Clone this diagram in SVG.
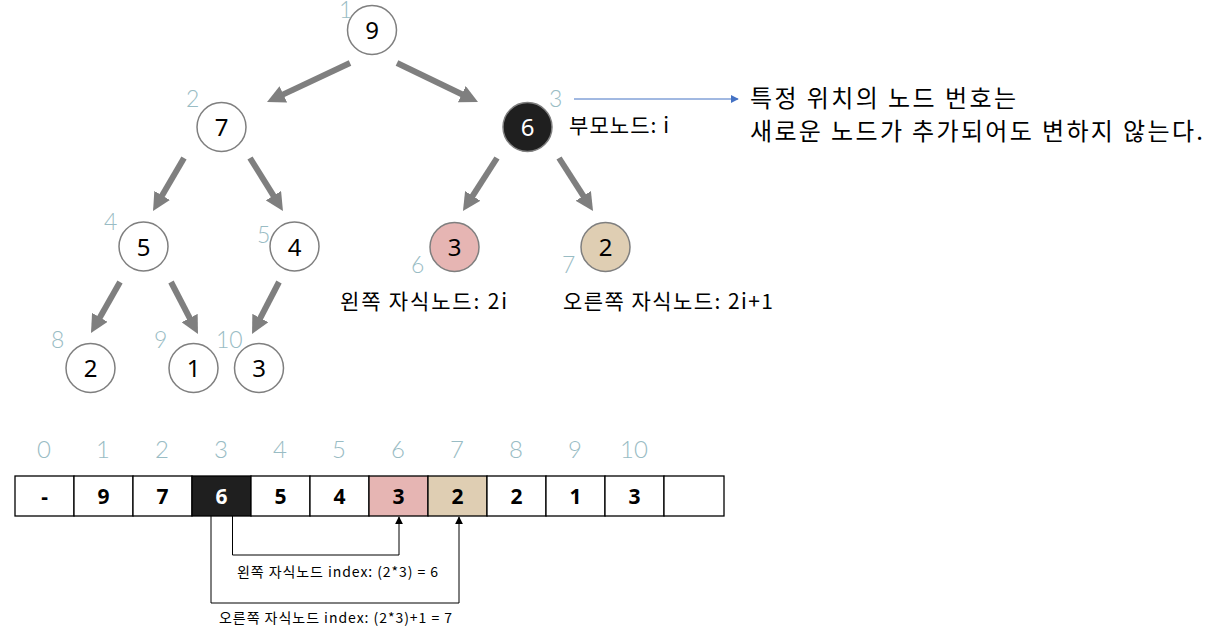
<svg xmlns="http://www.w3.org/2000/svg" width="1218" height="636" viewBox="0 0 1218 636">
<style>
  .node circle { stroke: #7f7f7f; stroke-width: 1.5; fill: #ffffff; }
  .node text.val { font-family: "Noto Sans", "Open Sans", sans-serif; font-size: 24px; text-anchor: middle; fill: #000; }
  .idx { font-family: "Lato", "Noto Sans", sans-serif; font-weight: 300; font-size: 23px; fill: #99bcc4; }
  .tarrow { stroke: #7f7f7f; stroke-width: 6; fill: none; marker-end: url(#thick); }
  .kr { font-family: "Noto Sans CJK KR", "Noto Sans", sans-serif; fill: #000; }
  .cell { stroke: #000; stroke-width: 1.3; fill: #fff; }
  .cval { font-family: "Noto Sans", "Open Sans", sans-serif; font-weight: bold; font-size: 21px; text-anchor: middle; fill: #000; }
  .aidx { font-family: "Lato", "Noto Sans", sans-serif; font-weight: 300; font-size: 24px; text-anchor: middle; fill: #99bcc4; }
  .thin { stroke: #000; stroke-width: 1; fill: none; marker-end: url(#small); }
</style>
<defs>
  <marker id="thick" viewBox="0 0 10 10" refX="1" refY="5" markerWidth="3" markerHeight="3" orient="auto" markerUnits="strokeWidth">
    <path d="M0,0 L10,5 L0,10 z" fill="#7f7f7f"/>
  </marker>
  <marker id="small" viewBox="0 0 10 10" refX="9" refY="5" markerWidth="8" markerHeight="8" orient="auto" markerUnits="userSpaceOnUse">
    <path d="M0,0 L10,5 L0,10 z" fill="#000"/>
  </marker>
  <marker id="blue" viewBox="0 0 10 10" refX="9" refY="5" markerWidth="8" markerHeight="8" orient="auto" markerUnits="userSpaceOnUse">
    <path d="M0,0 L10,5 L0,10 z" fill="#4472c4"/>
  </marker>
</defs>
<rect width="1218" height="636" fill="#fff"/>

<g id="connectors">
  <line class="tarrow" x1="350" y1="63" x2="281.7" y2="95.1"/>
  <line class="tarrow" x1="397" y1="63" x2="463.4" y2="95"/>
  <line class="tarrow" x1="184" y1="158" x2="161.2" y2="197"/>
  <line class="tarrow" x1="250" y1="158" x2="274.4" y2="197.2"/>
  <line class="tarrow" x1="120" y1="282" x2="99" y2="318.9"/>
  <line class="tarrow" x1="171" y1="282" x2="190.5" y2="319.6"/>
  <line class="tarrow" x1="279" y1="282" x2="259.5" y2="319.6"/>
  <line class="tarrow" x1="497" y1="158" x2="471.7" y2="197.4"/>
  <line class="tarrow" x1="559" y1="158" x2="584.3" y2="197.4"/>
  <line x1="574" y1="99" x2="738" y2="99" stroke="#4472c4" stroke-width="1" marker-end="url(#blue)"/>
  <polyline class="thin" points="232.5,516 232.5,555 399,555 399,517"/>
  <polyline class="thin" points="211,516 211,603 459,603 459,517"/>
</g>

<g id="node-1" class="node">
  <circle cx="372" cy="30" r="24.5"/>
  <text class="val" x="372" y="39">9</text>
  <text class="idx" x="339" y="18">1</text>
</g>
<g id="node-2" class="node">
  <circle cx="221.5" cy="127" r="24.5"/>
  <text class="val" x="221.5" y="136">7</text>
  <text class="idx" x="186" y="107">2</text>
</g>
<g id="node-3" class="node">
  <circle cx="527.5" cy="127" r="24.5" style="fill:#1f1f1f"/>
  <text class="val" x="527.5" y="136" style="fill:#fff">6</text>
  <text class="idx" x="549" y="107">3</text>
</g>
<g id="node-4" class="node">
  <circle cx="143.5" cy="246.5" r="24.5"/>
  <text class="val" x="143.5" y="255.5">5</text>
  <text class="idx" x="104" y="230">4</text>
</g>
<g id="node-5" class="node">
  <circle cx="294.5" cy="246.5" r="24.5"/>
  <text class="val" x="294.5" y="255.5">4</text>
  <text class="idx" x="257" y="243">5</text>
</g>
<g id="node-6" class="node">
  <circle cx="454.5" cy="247" r="24.5" style="fill:#e6b5b3"/>
  <text class="val" x="454.5" y="256">3</text>
  <text class="idx" x="411" y="273">6</text>
</g>
<g id="node-7" class="node">
  <circle cx="605.5" cy="247" r="24.5" style="fill:#dfceb3"/>
  <text class="val" x="605.5" y="256">2</text>
  <text class="idx" x="562" y="273">7</text>
</g>
<g id="node-8" class="node">
  <circle cx="90.5" cy="368" r="24.5"/>
  <text class="val" x="90.5" y="377">2</text>
  <text class="idx" x="51" y="348">8</text>
</g>
<g id="node-9" class="node">
  <circle cx="193.5" cy="368" r="24.5"/>
  <text class="val" x="193.5" y="377">1</text>
  <text class="idx" x="154" y="348">9</text>
</g>
<g id="node-10" class="node">
  <circle cx="259" cy="368" r="24.5"/>
  <text class="val" x="259" y="377">3</text>
  <text class="idx" x="216" y="348">10</text>
</g>

<g id="labels">
  <text class="kr" x="569" y="133" font-size="21" textLength="100">부모노드: i</text>
  <text class="kr" x="750" y="107" font-size="24" textLength="266">특정 위치의 노드 번호는</text>
  <text class="kr" x="750" y="140" font-size="24" textLength="453">새로운 노드가 추가되어도 변하지 않는다.</text>
  <text class="kr" x="340" y="309" font-size="21" textLength="167">왼쪽 자식노드: 2i</text>
  <text class="kr" x="563" y="309" font-size="21" textLength="210">오른쪽 자식노드: 2i+1</text>
  <text class="kr" x="237" y="577" font-size="14" textLength="201">왼쪽 자식노드 index: (2*3) = 6</text>
  <text class="kr" x="219" y="623" font-size="14" textLength="233">오른쪽 자식노드 index: (2*3)+1 = 7</text>
</g>

<g id="array">
  <rect class="cell" x="15" y="476" width="59" height="40"/>
  <rect class="cell" x="74" y="476" width="59" height="40"/>
  <rect class="cell" x="133" y="476" width="59" height="40"/>
  <rect class="cell" x="192" y="476" width="59" height="40" style="fill:#1f1f1f"/>
  <rect class="cell" x="251" y="476" width="59" height="40"/>
  <rect class="cell" x="310" y="476" width="59" height="40"/>
  <rect class="cell" x="369" y="476" width="59" height="40" style="fill:#e6b5b3"/>
  <rect class="cell" x="428" y="476" width="59" height="40" style="fill:#dfceb3"/>
  <rect class="cell" x="487" y="476" width="59" height="40"/>
  <rect class="cell" x="546" y="476" width="59" height="40"/>
  <rect class="cell" x="605" y="476" width="59" height="40"/>
  <rect class="cell" x="664" y="476" width="60" height="40"/>
  <text class="cval" x="44.5" y="504">-</text>
  <text class="cval" x="103.5" y="504">9</text>
  <text class="cval" x="162.5" y="504">7</text>
  <text class="cval" x="221.5" y="504" style="fill:#fff">6</text>
  <text class="cval" x="280.5" y="504">5</text>
  <text class="cval" x="339.5" y="504">4</text>
  <text class="cval" x="398.5" y="504">3</text>
  <text class="cval" x="457.5" y="504">2</text>
  <text class="cval" x="516.5" y="504">2</text>
  <text class="cval" x="575.5" y="504">1</text>
  <text class="cval" x="634.5" y="504">3</text>
  <text class="aidx" x="44" y="458">0</text>
  <text class="aidx" x="103" y="458">1</text>
  <text class="aidx" x="162" y="458">2</text>
  <text class="aidx" x="221" y="458">3</text>
  <text class="aidx" x="280" y="458">4</text>
  <text class="aidx" x="339" y="458">5</text>
  <text class="aidx" x="398" y="458">6</text>
  <text class="aidx" x="457" y="458">7</text>
  <text class="aidx" x="516" y="458">8</text>
  <text class="aidx" x="575" y="458">9</text>
  <text class="aidx" x="634" y="458">10</text>
</g>
</svg>
